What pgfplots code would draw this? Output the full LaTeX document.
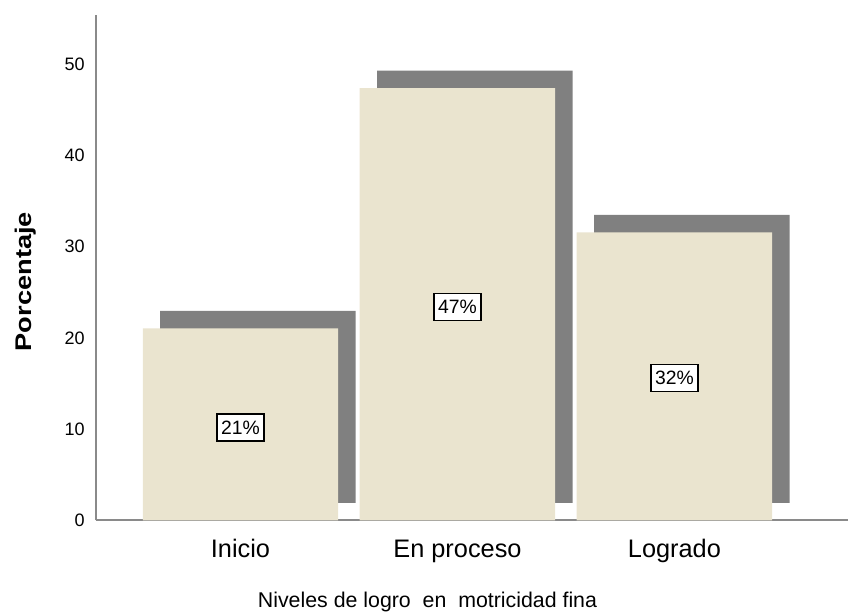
\documentclass[border=0pt]{standalone}
\usepackage{pgfplots}
\pgfplotsset{compat=1.18}
\usepackage{fontspec}
\setmainfont{Liberation Sans}
\definecolor{beige}{RGB}{234,228,207}
\definecolor{shadow}{RGB}{128,128,128}
\definecolor{axgray}{RGB}{138,138,138}
\pgfplotsset{base/.style={
  width=564pt, height=379pt, scale only axis,
  xmin=-0.666, xmax=2.8, ymin=0, ymax=55.4,
  bar width=0.901,
}}
\begin{document}
\begin{tikzpicture}
\path[use as bounding box] (-72pt,-70.9pt) rectangle (564pt,390.25pt);
% shadow bars
\begin{axis}[base, hide axis, ybar stacked, bar shift=0.0806]
\addplot[ybar stacked, bar shift=0.0806, draw=none, fill=none] coordinates {(0,1.92) (1,1.92) (2,1.92)};
\addplot[ybar stacked, bar shift=0.0806, draw=none, fill=shadow] coordinates {(0,21.05) (1,47.37) (2,31.58)};
\end{axis}
% main bars
\begin{axis}[base, ybar,
  axis x line*=bottom, axis y line*=left,
  axis line style={draw=axgray, line width=1.4pt, -},
  major tick length=0pt,
  /pgf/number format/assume math mode=true,
  ytick={0,10,20,30,40,50},
  yticklabel style={anchor=east, inner sep=0pt, xshift=-8.25pt, font=\fontsize{13.5}{14}\selectfont},
  xtick={0,1,2},
  xticklabels={Inicio, En proceso, Logrado},
  xticklabel style={anchor=base, inner sep=0pt, yshift=-28pt, font=\fontsize{19}{20}\selectfont},
  xlabel={Niveles de logro\ \ en\ \ motricidad fina},
  xlabel style={at={(axis description cs:0.4408,0)}, anchor=base, inner sep=0pt, yshift=-65pt, font=\fontsize{16}{17}\selectfont},
  ylabel={\scalebox{1.2}[1]{\bfseries Porcentaje}},
  ylabel style={at={(axis description cs:0,0.4724)}, anchor=center, inner sep=0pt, yshift=53pt, font=\fontsize{17}{18}\selectfont},
]
\addplot[ybar, bar shift=0pt, draw=none, fill=beige] coordinates {(0,21.05) (1,47.37) (2,31.58)};
\addplot[ybar, bar shift=0pt, draw=none, fill=none,
  point meta=explicit symbolic,
  nodes near coords,
  every node near coord/.append style={anchor=center, draw=black, line width=1.1pt, fill=white, inner xsep=3pt, inner ysep=5pt, text=black, font=\fontsize{14.5}{15}\selectfont}
] coordinates {(0,10.19)[21\%] (1,23.38)[47\%] (2,15.58)[32\%]};
\end{axis}
\end{tikzpicture}
\end{document}
